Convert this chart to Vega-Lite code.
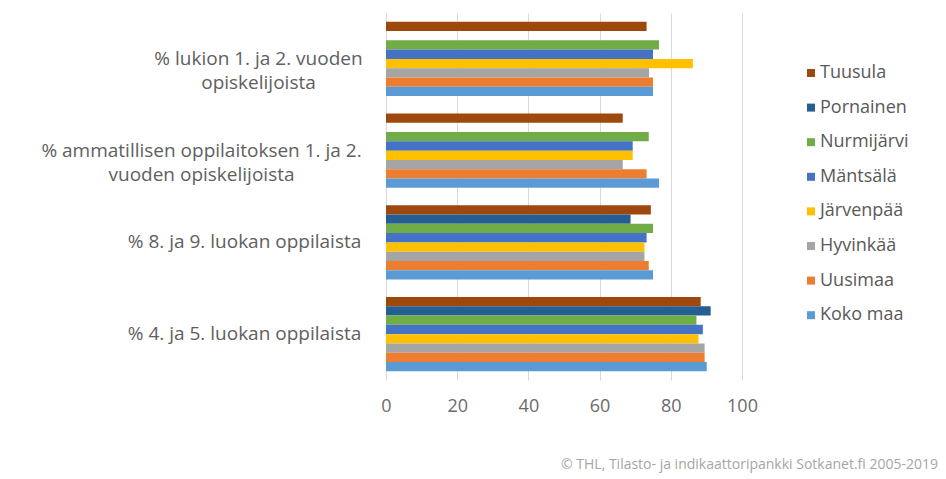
{
  "$schema": "https://vega.github.io/schema/vega-lite/v6.json",
  "autosize": "none",
  "width": 356,
  "height": 367,
  "padding": {"left": 386, "top": 13, "right": 204, "bottom": 99},
  "background": "white",
  "title": {
    "text": "© THL, Tilasto- ja indikaattoripankki Sotkanet.fi 2005-2019",
    "orient": "bottom",
    "anchor": "end",
    "frame": "group",
    "dx": 196,
    "offset": 43,
    "fontSize": 14,
    "fontWeight": "normal",
    "font": "Open Sans",
    "color": "#a6a6a6"
  },
  "data": {
    "values": [
      {"ryhma": "lukio", "alue": "Tuusula", "arvo": 73.2},
      {"ryhma": "lukio", "alue": "Nurmijärvi", "arvo": 76.7},
      {"ryhma": "lukio", "alue": "Mäntsälä", "arvo": 75.0},
      {"ryhma": "lukio", "alue": "Järvenpää", "arvo": 86.2},
      {"ryhma": "lukio", "alue": "Hyvinkää", "arvo": 73.9},
      {"ryhma": "lukio", "alue": "Uusimaa", "arvo": 75.0},
      {"ryhma": "lukio", "alue": "Koko maa", "arvo": 75.0},
      {"ryhma": "ammatillinen", "alue": "Tuusula", "arvo": 66.5},
      {"ryhma": "ammatillinen", "alue": "Nurmijärvi", "arvo": 73.8},
      {"ryhma": "ammatillinen", "alue": "Mäntsälä", "arvo": 69.3},
      {"ryhma": "ammatillinen", "alue": "Järvenpää", "arvo": 69.3},
      {"ryhma": "ammatillinen", "alue": "Hyvinkää", "arvo": 66.5},
      {"ryhma": "ammatillinen", "alue": "Uusimaa", "arvo": 73.2},
      {"ryhma": "ammatillinen", "alue": "Koko maa", "arvo": 76.7},
      {"ryhma": "luokka89", "alue": "Tuusula", "arvo": 74.4},
      {"ryhma": "luokka89", "alue": "Pornainen", "arvo": 68.7},
      {"ryhma": "luokka89", "alue": "Nurmijärvi", "arvo": 75.0},
      {"ryhma": "luokka89", "alue": "Mäntsälä", "arvo": 73.2},
      {"ryhma": "luokka89", "alue": "Järvenpää", "arvo": 72.6},
      {"ryhma": "luokka89", "alue": "Hyvinkää", "arvo": 72.6},
      {"ryhma": "luokka89", "alue": "Uusimaa", "arvo": 73.8},
      {"ryhma": "luokka89", "alue": "Koko maa", "arvo": 75.0},
      {"ryhma": "luokka45", "alue": "Tuusula", "arvo": 88.4},
      {"ryhma": "luokka45", "alue": "Pornainen", "arvo": 91.2},
      {"ryhma": "luokka45", "alue": "Nurmijärvi", "arvo": 87.2},
      {"ryhma": "luokka45", "alue": "Mäntsälä", "arvo": 89.0},
      {"ryhma": "luokka45", "alue": "Järvenpää", "arvo": 87.8},
      {"ryhma": "luokka45", "alue": "Hyvinkää", "arvo": 89.5},
      {"ryhma": "luokka45", "alue": "Uusimaa", "arvo": 89.5},
      {"ryhma": "luokka45", "alue": "Koko maa", "arvo": 90.1}
    ]
  },
  "mark": {"type": "bar"},
  "encoding": {
    "y": {
      "field": "ryhma",
      "type": "nominal",
      "sort": ["lukio", "ammatillinen", "luokka89", "luokka45"],
      "scale": {"paddingInner": 0.19, "paddingOuter": 0.095},
      "axis": {
        "title": null,
        "ticks": false,
        "domain": true,
        "domainColor": "#d9d9d9",
        "labelFont": "Open Sans",
        "labelFontSize": 19,
        "labelColor": "#606060",
        "labelLineHeight": 24,
        "labelLimit": 400,
        "labelAlign": "center",
        "labelBaseline": "middle",
        "labelPadding": {
          "condition": [
            {"test": "datum.value == 'lukio'", "value": 128},
            {"test": "datum.value == 'ammatillinen'", "value": 185}
          ],
          "value": 142
        },
        "labelExpr": "datum.value == 'lukio' ? ['% lukion 1. ja 2. vuoden', 'opiskelijoista'] : datum.value == 'ammatillinen' ? ['% ammatillisen oppilaitoksen 1. ja 2.', 'vuoden opiskelijoista'] : datum.value == 'luokka89' ? '% 8. ja 9. luokan oppilaista' : '% 4. ja 5. luokan oppilaista'"
      }
    },
    "yOffset": {
      "field": "alue",
      "type": "nominal",
      "sort": ["Tuusula", "Pornainen", "Nurmijärvi", "Mäntsälä", "Järvenpää", "Hyvinkää", "Uusimaa", "Koko maa"],
      "scale": {"paddingInner": 0, "paddingOuter": 0}
    },
    "x": {
      "field": "arvo",
      "type": "quantitative",
      "scale": {"domain": [0, 100], "nice": false},
      "axis": {
        "title": null,
        "values": [0, 20, 40, 60, 80, 100],
        "ticks": false,
        "domain": false,
        "grid": true,
        "gridColor": "#d9d9d9",
        "labelFont": "Open Sans",
        "labelFontSize": 18,
        "labelColor": "#6b6b6b",
        "labelPadding": 17,
        "labelFlush": false
      }
    },
    "color": {
      "field": "alue",
      "type": "nominal",
      "scale": {
        "domain": ["Tuusula", "Pornainen", "Nurmijärvi", "Mäntsälä", "Järvenpää", "Hyvinkää", "Uusimaa", "Koko maa"],
        "range": ["#9E480E", "#255E91", "#70AD47", "#4472C4", "#FFC000", "#A5A5A5", "#ED7D31", "#5B9BD5"]
      },
      "legend": {
        "title": null,
        "orient": "none",
        "legendX": 416,
        "legendY": 51,
        "symbolType": "square",
        "symbolSize": 64,
        "symbolStrokeWidth": 0,
        "labelFont": "Open Sans",
        "labelFontSize": 18,
        "labelColor": "#595959",
        "labelOffset": 0,
        "rowPadding": 16.6
      }
    }
  },
  "config": {
    "view": {"stroke": null}
  }
}
